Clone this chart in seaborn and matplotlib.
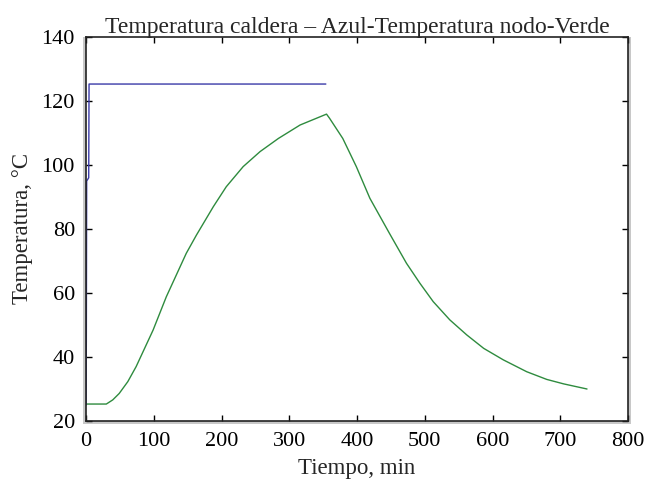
import pandas as pd
import matplotlib.pyplot as plt
import seaborn as sns
from matplotlib.patches import Rectangle

# boiler temperature (blue)
caldera_t = [0, 0.5, 1.0, 4.0, 4.5, 354]
caldera_temp = [25, 45, 95, 96, 125.3, 125.3]

# node temperature (green)
nodo_t = [0, 30, 39.5, 49, 61.7, 74, 99, 118.5, 148, 163, 188, 207, 232, 257, 284, 316, 355,
          359.5, 379, 399, 419, 448, 473, 493, 512.5, 537, 562, 587, 616, 650.5, 680, 705, 739.5]
nodo_temp = [25.3, 25.3, 26.6, 28.6, 32.3, 37.0, 48.4, 58.8, 72.4, 78.1, 87.0, 93.2, 99.5, 104.2, 108.3, 112.5, 115.9,
             114.6, 108.3, 99.5, 89.6, 78.6, 69.3, 63.0, 57.3, 51.6, 46.9, 42.7, 39.1, 35.4, 33.0, 31.6, 30.0]

x_ticks = [0, 100, 200, 300, 400, 500, 600, 700, 800]
y_ticks = [20, 40, 60, 80, 100, 120, 140]

caldera = pd.DataFrame({"t": caldera_t, "temp": caldera_temp})
nodo = pd.DataFrame({"t": nodo_t, "temp": nodo_temp})

sns.set_style("ticks")
plt.rcParams['font.family'] = ['Liberation Serif', 'DejaVu Serif']

fig = plt.figure(figsize=(6.47, 4.80), dpi=100)
ax = fig.add_axes([86 / 647, 1 - 421 / 480, 542 / 647, 384 / 480])
ax.set_zorder(2)
ax.set_facecolor("white")

# light grey rim round the plot box
fig.patches.append(Rectangle((83 / 647, 1 - 424 / 480), 548 / 647, 387 / 480,
                             transform=fig.transFigure, facecolor="#c8c8c8",
                             edgecolor="none", zorder=-1))

sns.lineplot(data=nodo, x="t", y="temp", color="#2e8b3e", linewidth=1, ax=ax,
             estimator=None, sort=False)
sns.lineplot(data=caldera, x="t", y="temp", color="#3a3aa8", linewidth=1, ax=ax,
             estimator=None, sort=False)

ax.set_xlim(0, 800)
ax.set_ylim(20, 140)
ax.set_xticks(x_ticks)
ax.set_yticks(y_ticks)
ax.tick_params(direction="in", top=True, right=True, length=4, width=1, labelsize=16,
               colors="black", pad=8)
for s in ax.spines.values():
    s.set_visible(True)
    s.set_color("#222222")
    s.set_linewidth(1.2)

ax.set_title("Temperatura caldera – Azul-Temperatura nodo-Verde", fontsize=17, pad=3)
ax.set_xlabel("Tiempo, min", fontsize=16.5, labelpad=5)
ax.set_ylabel("Temperatura, °C", fontsize=16.5, labelpad=6)

fig.savefig("out.png", dpi=100)
